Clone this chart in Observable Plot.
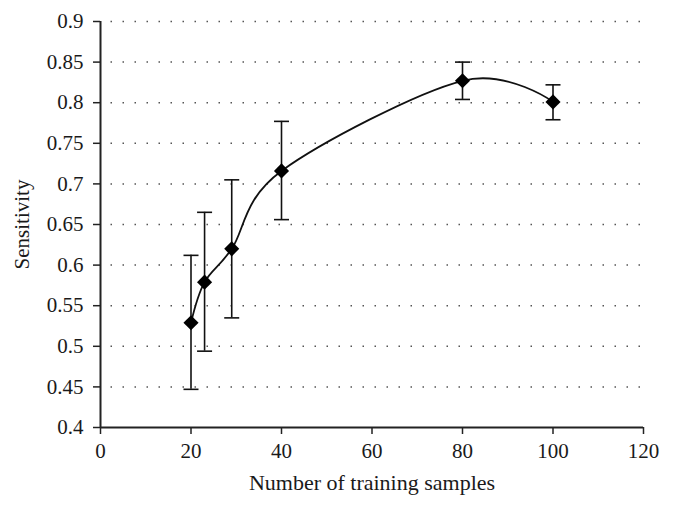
<!DOCTYPE html>
<html><head><meta charset="utf-8">
<script src="https://cdn.jsdelivr.net/npm/d3@7"></script>
<script src="https://cdn.jsdelivr.net/npm/@observablehq/plot@0.6"></script>
<style>body{margin:0;background:#fff;}</style>
</head><body><div id="chart"></div>
<script>
const samples = [20, 23, 29, 40, 80, 100];
const sensitivity = [0.529, 0.579, 0.620, 0.716, 0.827, 0.801];
const errLow = [0.447, 0.494, 0.535, 0.656, 0.804, 0.779];
const errHigh = [0.612, 0.665, 0.705, 0.777, 0.850, 0.822];
const xTicks = [0, 20, 40, 60, 80, 100, 120];
const yTicks = [0.4, 0.45, 0.5, 0.55, 0.6, 0.65, 0.7, 0.75, 0.8, 0.85, 0.9];
const xLabel = "Number of training samples";
const yLabel = "Sensitivity";

const data = samples.map((x, i) => ({x, y: sensitivity[i], lo: errLow[i], hi: errHigh[i]}));
const cap = {draw(ctx) { ctx.moveTo(-7.5, 0); ctx.lineTo(7.5, 0); }};

const chart = Plot.plot({
  width: 674,
  height: 511,
  marginLeft: 100,
  marginRight: 31,
  marginTop: 21,
  marginBottom: 84,
  style: {fontFamily: "'Liberation Serif', serif", fontSize: "21px", color: "#1a1a1a", background: "#fff"},
  x: {domain: [0, 120]},
  y: {domain: [0.4, 0.9]},
  marks: [
    Plot.gridY(yTicks.slice(1), {stroke: "#555", strokeOpacity: 1, strokeWidth: 1.5, strokeDasharray: "1.5,10.5", strokeDashoffset: -10.5}),
    Plot.axisX({ticks: xTicks, tickSize: 7, tickPadding: 9, strokeWidth: 1.5, stroke: "#222", tickFormat: d => String(d), fontSize: 21, label: null}),
    Plot.axisX({ticks: [], label: xLabel, labelAnchor: "center", labelArrow: "none", labelOffset: 62, fontSize: 22}),
    Plot.axisY({ticks: yTicks, tickSize: 7, tickPadding: 10, strokeWidth: 1.5, stroke: "#222", tickFormat: d => String(d), fontSize: 21, label: null}),
    Plot.axisY({ticks: [], label: yLabel, labelAnchor: "center", labelArrow: "none", labelOffset: 86, fontSize: 21}),
    Plot.ruleX([0], {stroke: "#222", strokeWidth: 2}),
    Plot.ruleY([0.4], {stroke: "#222", strokeWidth: 2}),
    Plot.ruleX(data, {x: "x", y1: "lo", y2: "hi", stroke: "#111", strokeWidth: 1.6}),
    Plot.dot(data, {x: "x", y: "lo", symbol: cap, fill: "none", stroke: "#111", strokeWidth: 1.6}),
    Plot.dot(data, {x: "x", y: "hi", symbol: cap, fill: "none", stroke: "#111", strokeWidth: 1.6}),
    Plot.line(data, {x: "x", y: "y", curve: "cardinal", stroke: "#111", strokeWidth: 1.8}),
    Plot.dot(data, {x: "x", y: "y", symbol: "diamond2", r: 6.8, fill: "#000", stroke: "none"})
  ]
});
document.getElementById("chart").appendChild(chart);
</script>
</body></html>
